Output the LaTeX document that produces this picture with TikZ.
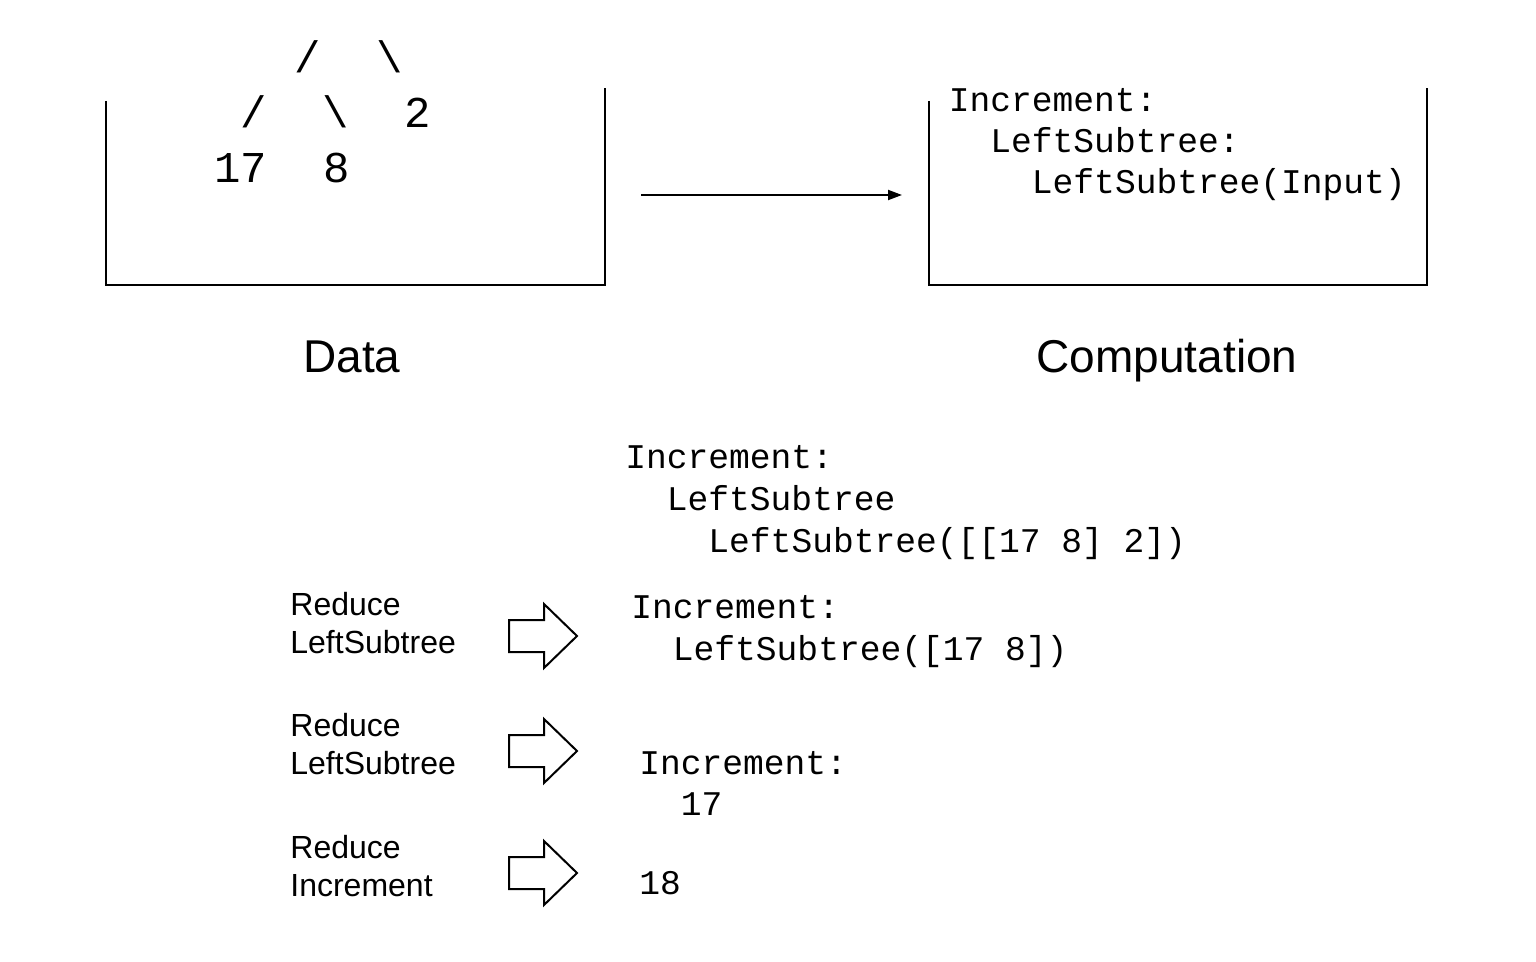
\documentclass[tikz,border=0pt]{standalone}
\usepackage{fontspec}
\setmainfont{Liberation Sans}
\setmonofont{Liberation Mono}
\usetikzlibrary{arrows.meta}

\tikzset{
  box/.style={line width=1.2pt},
  codeline/.style={anchor=base west, inner sep=0pt,
    font=\ttfamily\fontsize{17.3}{20}\selectfont},
  treeglyph/.style={anchor=base, inner sep=0pt,
    font=\ttfamily\fontsize{22}{26}\selectfont},
  steplabel/.style={anchor=base west, inner sep=0pt,
    font=\fontsize{16}{18}\selectfont},
  caption/.style={anchor=base, inner sep=0pt,
    font=\fontsize{23}{26}\selectfont},
  blockarrow/.style={line width=1pt, line join=miter}
}

\begin{document}
\begin{tikzpicture}[x=0.5pt, y=-0.5pt]
	\useasboundingbox (0,0) rectangle (1536,962);
	% data box with the tree
	\draw[box] (106,101) -- (106,285) -- (605,285) -- (605,88);
	\node[treeglyph] (t1l) at (308,73) {/};
	\node[treeglyph] (t1r) at (390,73) {\textbackslash};
	\node[treeglyph] (t2l) at (254,128) {/};
	\node[treeglyph] (t2r) at (336,128) {\textbackslash};
	\node[treeglyph] (two) at (418,128) {2};
	\node[treeglyph] (seventeen) at (241,183) {17};
	\node[treeglyph] (eight) at (337,183) {8};
	% computation box
	\draw[box] (929,101) -- (929,285) -- (1427,285) -- (1427,88);
	\node[codeline] (c1) at (948.5,112) {Increment:};
	\node[codeline] (c2) at (948.5,153) {\phantom{xx}LeftSubtree:};
	\node[codeline] (c3) at (948.5,194) {\phantom{xxxx}LeftSubtree(Input)};
	% arrow between the boxes
	\coordinate (from) at (641,195);
	\coordinate (to) at (902,195);
	\draw[line width=1pt, -{Triangle[length=7pt,width=5pt]}] (from) -- (to);
	\node[caption] (data) at (352,373) {Data};
	\node[caption] (comp) at (1167,373) {Computation};
	% reduction steps
	\node[codeline] (a1) at (625,468) {Increment:};
	\node[codeline] (a2) at (625,510) {\phantom{xx}LeftSubtree};
	\node[codeline] (a3) at (625,552) {\phantom{xxxx}LeftSubtree([[17 8] 2])};
	\node[steplabel] (r1a) at (290,615) {Reduce};
	\node[steplabel] (r1b) at (290,653) {LeftSubtree};
	\draw[blockarrow] (509,620) -- (544,620) -- (544,604) -- (577,636) -- (544,668) -- (544,652) -- (509,652) -- cycle;
	\node[codeline] (b1) at (631,618) {Increment:};
	\node[codeline] (b2) at (631,660) {\phantom{xx}LeftSubtree([17 8])};
	\node[steplabel] (r2a) at (290,736) {Reduce};
	\node[steplabel] (r2b) at (290,774) {LeftSubtree};
	\draw[blockarrow] (509,735) -- (544,735) -- (544,719) -- (577,751) -- (544,783) -- (544,767) -- (509,767) -- cycle;
	\node[codeline] (d1) at (639,774) {Increment:};
	\node[codeline] (d2) at (639,815) {\phantom{xx}17};
	\node[steplabel] (r3a) at (290,858) {Reduce};
	\node[steplabel] (r3b) at (290,896) {Increment};
	\draw[blockarrow] (509,857) -- (544,857) -- (544,841) -- (577,873) -- (544,905) -- (544,889) -- (509,889) -- cycle;
	\node[codeline] (e1) at (639,894) {18};
\end{tikzpicture}
\end{document}
